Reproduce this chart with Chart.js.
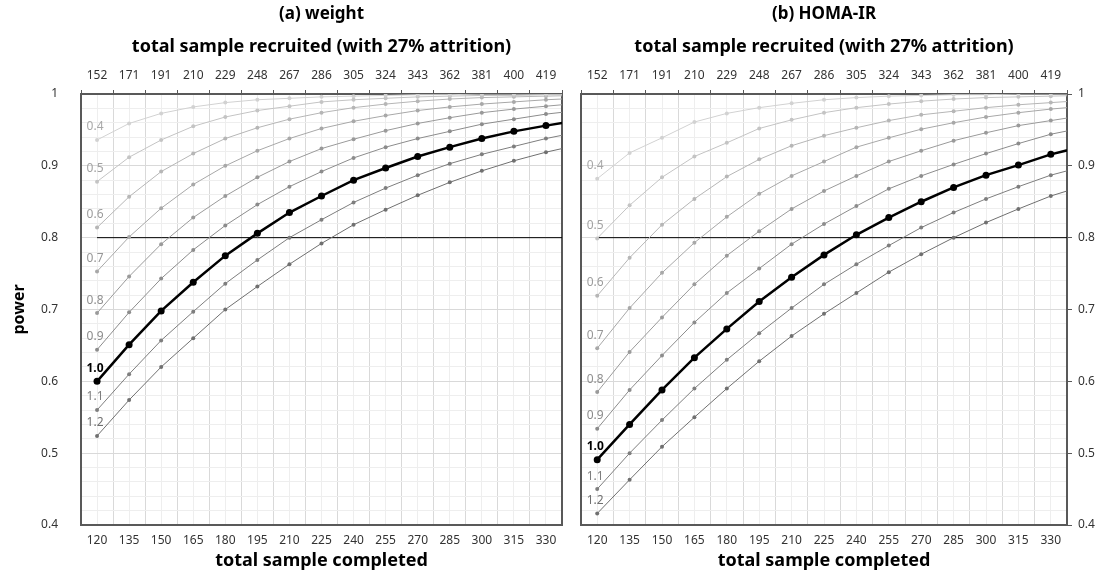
<!DOCTYPE html>
<html lang="en">
<head>
<meta charset="UTF-8">
<title>power curves: weight and HOMA-IR</title>
<style>
  body { margin: 0; background: #ffffff; }
  #wrap { position: relative; width: 1099px; height: 572px; }
  #chartA { position: absolute; left: 0; top: 0; }
  #chartB { position: absolute; left: 570px; top: 0; }
</style>
</head>
<body>
<div id="wrap">
  <canvas id="chartA" width="570" height="572"></canvas>
  <canvas id="chartB" width="529" height="572"></canvas>
</div>
<script src="https://cdn.jsdelivr.net/npm/chart.js@4"></script>
<script>
// bottom axis: total sample completed, top axis: recruited (27% attrition)
const completed = [120, 135, 150, 165, 180, 195, 210, 225, 240, 255, 270, 285, 300, 315, 330];
const recruited = [152, 171, 191, 210, 229, 248, 267, 286, 305, 324, 343, 362, 381, 400, 419];
// the curves run one step past 330, out of the plot
const pointN = [120, 135, 150, 165, 180, 195, 210, 225, 240, 255, 270, 285, 300, 315, 330, 345];
const sdLevels = ['0.4', '0.5', '0.6', '0.7', '0.8', '0.9', '1.0', '1.1', '1.2'];
const powerTarget = 0.8;

// (a) weight
const weight04 = [0.936, 0.959, 0.973, 0.982, 0.988, 0.992, 0.994, 0.996, 0.997, 0.998, 0.999, 0.999, 1.0, 1.0, 1.0, 1.0];
const weight05 = [0.878, 0.912, 0.936, 0.955, 0.968, 0.977, 0.983, 0.989, 0.992, 0.994, 0.996, 0.997, 0.998, 0.998, 0.999, 0.999];
const weight06 = [0.814, 0.857, 0.892, 0.917, 0.938, 0.953, 0.965, 0.974, 0.981, 0.986, 0.990, 0.993, 0.995, 0.996, 0.997, 0.998];
const weight07 = [0.753, 0.801, 0.841, 0.874, 0.900, 0.921, 0.938, 0.952, 0.962, 0.970, 0.977, 0.982, 0.986, 0.989, 0.992, 0.994];
const weight08 = [0.695, 0.746, 0.791, 0.828, 0.858, 0.884, 0.906, 0.924, 0.937, 0.949, 0.959, 0.967, 0.974, 0.979, 0.983, 0.987];
const weight09 = [0.644, 0.696, 0.743, 0.783, 0.817, 0.846, 0.871, 0.892, 0.911, 0.926, 0.938, 0.948, 0.958, 0.965, 0.972, 0.977];
const weight10 = [0.600, 0.651, 0.698, 0.738, 0.775, 0.806, 0.835, 0.858, 0.880, 0.897, 0.913, 0.926, 0.938, 0.948, 0.956, 0.963];
const weight11 = [0.560, 0.610, 0.657, 0.697, 0.736, 0.769, 0.800, 0.825, 0.849, 0.869, 0.887, 0.903, 0.916, 0.927, 0.938, 0.947];
const weight12 = [0.524, 0.574, 0.620, 0.660, 0.700, 0.732, 0.763, 0.792, 0.818, 0.839, 0.859, 0.877, 0.893, 0.907, 0.919, 0.929];

// (b) HOMA-IR
const homa04 = [0.882, 0.918, 0.939, 0.961, 0.973, 0.981, 0.987, 0.992, 0.995, 0.997, 0.998, 0.999, 0.999, 1.0, 1.0, 1.0];
const homa05 = [0.799, 0.845, 0.884, 0.913, 0.932, 0.952, 0.964, 0.974, 0.981, 0.986, 0.990, 0.993, 0.995, 0.996, 0.997, 0.998];
const homa06 = [0.719, 0.772, 0.818, 0.854, 0.885, 0.909, 0.928, 0.942, 0.953, 0.963, 0.971, 0.976, 0.981, 0.985, 0.988, 0.991];
const homa07 = [0.646, 0.702, 0.751, 0.793, 0.829, 0.861, 0.886, 0.906, 0.926, 0.939, 0.951, 0.960, 0.968, 0.974, 0.979, 0.983];
const homa08 = [0.585, 0.641, 0.689, 0.735, 0.775, 0.809, 0.840, 0.865, 0.886, 0.906, 0.921, 0.935, 0.946, 0.956, 0.963, 0.970];
const homa09 = [0.534, 0.588, 0.636, 0.682, 0.723, 0.757, 0.791, 0.819, 0.844, 0.868, 0.886, 0.902, 0.917, 0.931, 0.944, 0.953];
const homa10 = [0.491, 0.540, 0.588, 0.633, 0.673, 0.711, 0.745, 0.776, 0.804, 0.828, 0.850, 0.870, 0.887, 0.901, 0.916, 0.927];
const homa11 = [0.450, 0.500, 0.546, 0.590, 0.630, 0.667, 0.702, 0.735, 0.763, 0.789, 0.814, 0.835, 0.854, 0.871, 0.887, 0.899];
const homa12 = [0.416, 0.463, 0.509, 0.550, 0.590, 0.628, 0.663, 0.694, 0.723, 0.752, 0.777, 0.800, 0.821, 0.840, 0.858, 0.872];

const shade = ['#d2d2d2', '#c4c4c4', '#b6b6b6', '#a8a8a8', '#9a9a9a', '#8c8c8c', '#000000', '#7e7e7e', '#707070'];
const tagShade = ['#a8a8a8', '#a2a2a2', '#9c9c9c', '#969696', '#909090', '#8a8a8a', '#000000', '#7e7e7e', '#707070'];
const family = 'Noto Sans';
const axisDark = '#595959';

const isBoundary = v => Math.abs((v - 112.5) / 15 - Math.round((v - 112.5) / 15)) < 1e-6;
const isMajorY = v => Math.round(v * 100) % 10 === 0;

function makeDatasets(rows) {
  const sets = sdLevels.map((lv, i) => {
    const main = lv === '1.0';
    return {
      label: lv,
      data: rows[i].map((p, j) => ({ x: pointN[j], y: p })),
      borderColor: shade[i],
      backgroundColor: shade[i],
      borderWidth: main ? 2.5 : 1,
      pointRadius: main ? 3.5 : 2,
      pointBorderWidth: 0,
      pointHoverRadius: 0,
      order: main ? 0 : 1,
      tagColor: tagShade[i]
    };
  });
  sets.push({
    label: 'target',
    data: pointN.map(n => ({ x: n, y: powerTarget })),
    borderColor: '#000000',
    borderWidth: 1,
    pointRadius: 0,
    order: 2
  });
  return sets;
}

// sd labels above the first point of each curve
const seriesTags = {
  id: 'seriesTags',
  afterDatasetsDraw(chart) {
    const ctx = chart.ctx;
    chart.data.datasets.forEach((ds, i) => {
      if (!ds.tagColor) return;
      const p = chart.getDatasetMeta(i).data[0];
      const main = ds.label === '1.0';
      ctx.save();
      ctx.font = (main ? 'bold ' : '') + '12px "' + family + '"';
      ctx.fillStyle = ds.tagColor;
      ctx.textAlign = 'center';
      ctx.textBaseline = 'middle';
      ctx.fillText(ds.label, p.x - 2, p.y - 13);
      ctx.restore();
    });
  }
};

function drawPanel(id, titleText, rows, yLeft) {
  const tickFont = { family: family, size: 12 };
  const yScale = {
    type: 'linear',
    position: yLeft ? 'left' : 'right',
    min: 0.4,
    max: 1,
    afterFit: s => { s.width = yLeft ? 81 : 32; },
    ticks: {
      stepSize: 0.02,
      autoSkip: false,
      padding: yLeft ? 23 : 6,
      color: '#333333',
      font: tickFont,
      callback: v => isMajorY(v) ? (Math.round(v * 10) === 10 ? '1' : v.toFixed(1)) : ''
    },
    grid: {
      color: c => c.tick && isMajorY(c.tick.value) ? '#d9d9d9' : '#eeeeee',
      drawTicks: !yLeft,
      tickLength: 5,
      tickColor: c => c.tick && isMajorY(c.tick.value) ? axisDark : 'rgba(0,0,0,0)'
    },
    border: { color: axisDark, width: 2 },
    title: {
      display: yLeft,
      text: 'power',
      color: '#000000',
      font: { family: family, size: 16, weight: 'bold' },
      padding: { top: 10, bottom: 0 }
    }
  };
  const edgeScale = {
    type: 'linear',
    position: yLeft ? 'right' : 'left',
    min: 0.4,
    max: 1,
    afterFit: s => { s.width = yLeft ? 3 : 11; },
    ticks: { display: false },
    grid: { drawOnChartArea: false, drawTicks: false },
    border: { color: axisDark, width: 2 }
  };
  return new Chart(document.getElementById(id), {
    type: 'line',
    data: { datasets: makeDatasets(rows) },
    plugins: [seriesTags],
    options: {
      responsive: false,
      animation: false,
      events: [],
      layout: { padding: 0 },
      plugins: {
        legend: { display: false },
        tooltip: { enabled: false },
        title: {
          display: true,
          text: titleText,
          fullSize: false,
          color: '#000000',
          font: { family: family, size: 17, weight: 'bold' },
          padding: { top: 4, bottom: 4 }
        }
      },
      scales: {
        x: {
          type: 'linear',
          position: 'bottom',
          min: 112.5,
          max: 337.5,
          afterFit: s => { s.height = 47; },
          ticks: {
            stepSize: 7.5,
            autoSkip: false,
            maxRotation: 0,
            padding: 8,
            color: '#333333',
            font: tickFont,
            callback: v => completed.includes(v) ? String(v) : ''
          },
          grid: {
            drawTicks: false,
            color: c => c.tick && isBoundary(c.tick.value) ? '#d9d9d9' : '#eeeeee'
          },
          border: { color: axisDark, width: 2 },
          title: {
            display: true,
            text: 'total sample completed',
            color: '#000000',
            font: { family: family, size: 18, weight: 'bold' },
            padding: { top: 0, bottom: 0 }
          }
        },
        xTop: {
          type: 'linear',
          position: 'top',
          min: 112.5,
          max: 337.5,
          afterFit: s => { s.height = 65.6; },
          ticks: {
            stepSize: 7.5,
            autoSkip: false,
            maxRotation: 0,
            padding: 7,
            color: '#333333',
            font: tickFont,
            callback: v => {
              const i = completed.indexOf(v);
              return i < 0 ? '' : String(recruited[i]);
            }
          },
          grid: {
            drawOnChartArea: false,
            tickLength: 4,
            tickColor: c => c.tick && isBoundary(c.tick.value) ? axisDark : 'rgba(0,0,0,0)'
          },
          border: { color: axisDark, width: 2 },
          title: {
            display: true,
            text: 'total sample recruited (with 27% attrition)',
            color: '#000000',
            font: { family: family, size: 18, weight: 'bold' },
            padding: { top: 8, bottom: 0 }
          }
        },
        y: yScale,
        yEdge: edgeScale
      }
    }
  });
}

const weightRows = [weight04, weight05, weight06, weight07, weight08, weight09, weight10, weight11, weight12];
const homaRows = [homa04, homa05, homa06, homa07, homa08, homa09, homa10, homa11, homa12];
drawPanel('chartA', '(a) weight', weightRows, true);
drawPanel('chartB', '(b) HOMA-IR', homaRows, false);
</script>
</body>
</html>
